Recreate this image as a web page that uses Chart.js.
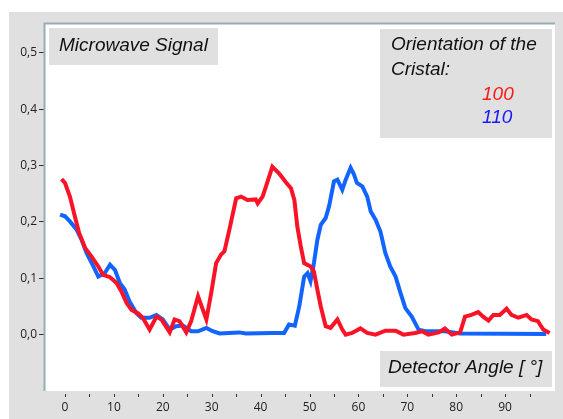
<!DOCTYPE html>
<html lang="en">
<head>
  <meta charset="UTF-8">
  <title>Microwave Signal</title>
  <script src="https://cdn.jsdelivr.net/npm/chart.js"></script>
  <style>
    body { margin: 0; background: #fff; }
    #chart { display: block; }
  </style>
</head>
<body>
  <canvas id="chart" width="563" height="419"></canvas>

  <script>
    // detector angle (deg) and signal
    const redAngle = [-0.7, 0, 1, 2, 2.9, 4.1, 5.4, 6.8, 7.8, 9.2, 10.5, 11.5, 12.6, 13.6, 14.9, 15.9, 17.3, 18.7, 19.7, 21.4,
      22.4, 23.4, 24.8, 25.8, 27.2, 28.9, 29.9, 30.9, 31.9, 32.6, 33.6, 35.0, 36.0, 37.3, 39.0, 39.4, 40.4, 41.1, 42.4, 43.8,
      45.2, 46.2, 46.9, 47.5, 48.2, 48.9, 50.2, 50.9, 51.6, 52.3, 53.3, 54.3, 55.7, 56.7, 57.4, 58.7, 60.4, 61.8, 63.5, 65.5,
      67.6, 69.2, 71.6, 73.0, 74.3, 76.4, 77.7, 79.1, 80.8, 81.8, 83.1, 84.5, 85.5, 86.6, 87.6, 88.9, 90.3, 91.3, 92.7, 94.4,
      95.4, 96.7, 97.8, 99.1];
    const redSignal = [0.276, 0.269, 0.245, 0.21, 0.18, 0.154, 0.139, 0.121, 0.106, 0.102, 0.092, 0.077, 0.056, 0.044, 0.038, 0.03, 0.009, 0.032, 0.027, 0.004,
      0.027, 0.024, 0.004, 0.024, 0.068, 0.027, 0.074, 0.127, 0.142, 0.148, 0.186, 0.242, 0.245, 0.239, 0.24, 0.233, 0.245, 0.263, 0.298, 0.286,
      0.27, 0.26, 0.239, 0.192, 0.157, 0.127, 0.121, 0.112, 0.08, 0.05, 0.015, 0.012, 0.027, 0.009, 0.0, 0.003, 0.011, 0.003, 0.0, 0.007,
      0.007, 0.0, 0.003, 0.006, 0.0, 0.004, 0.011, 0.0, 0.004, 0.032, 0.035, 0.04, 0.032, 0.025, 0.035, 0.035, 0.046, 0.035, 0.03, 0.035,
      0.027, 0.024, 0.009, 0.003];

    const blueAngle = [-1.0, 0, 1.0, 2.4, 3.4, 4.4, 5.8, 6.8, 8.1, 9.2, 10.2, 11.2, 12.2, 13.2, 14.6, 15.6, 17.3, 18.7, 20.0, 21.4,
      22.7, 24.1, 25.8, 27.2, 28.9, 30.2, 31.6, 35.6, 37.0, 42.4, 44.8, 45.8, 47.0, 47.9, 48.9, 49.6, 50.2, 50.9, 51.6, 52.3,
      53.3, 54.0, 55.0, 55.7, 56.7, 57.4, 58.4, 59.1, 59.7, 60.8, 61.8, 62.5, 63.5, 64.5, 65.5, 66.5, 67.6, 68.6, 69.6, 70.9,
      72.3, 73.7, 77.7, 80.8, 98.4];
    const blueSignal = [0.213, 0.21, 0.201, 0.186, 0.168, 0.145, 0.121, 0.103, 0.109, 0.124, 0.115, 0.092, 0.08, 0.059, 0.038, 0.03, 0.03, 0.035, 0.027, 0.009,
      0.015, 0.016, 0.006, 0.006, 0.012, 0.006, 0.002, 0.004, 0.002, 0.003, 0.003, 0.018, 0.016, 0.05, 0.103, 0.109, 0.095, 0.127, 0.168, 0.195,
      0.207, 0.228, 0.272, 0.275, 0.257, 0.275, 0.296, 0.284, 0.269, 0.263, 0.245, 0.219, 0.204, 0.183, 0.145, 0.121, 0.103, 0.074, 0.047, 0.032,
      0.009, 0.006, 0.006, 0.002, 0.001];

    const xTicks = [0, 10, 20, 30, 40, 50, 60, 70, 80, 90];
    const xMinorTicks = [0, 5, 10, 15, 20, 25, 30, 35, 40, 45, 50, 55, 60, 65, 70, 75, 80, 85, 90, 95];
    const yTicks = [0, 0.1, 0.2, 0.3, 0.4, 0.5];

    const RED = 'rgb(250, 18, 38)';
    const BLUE = 'rgb(18, 100, 255)';
    const PANEL = '#e0e0e0';

    const toPoints = (xs, ys) => xs.map((x, i) => ({ x: x, y: ys[i] }));

    // gray frame + white plot area behind the lines
    const frame = {
      id: 'frame',
      beforeDraw(chart) {
        const { ctx, chartArea: a } = chart;
        ctx.save();
        ctx.fillStyle = '#fff';
        ctx.fillRect(0, 0, chart.width, chart.height);
        ctx.fillStyle = PANEL;
        ctx.fillRect(9, 12, chart.width - 9, chart.height - 12);
        ctx.fillStyle = '#fff';
        ctx.fillRect(a.left, a.top, a.right - a.left, a.bottom - a.top);
        ctx.restore();
      },
      afterDraw(chart) {
        const { ctx, chartArea: a } = chart;
        const xs = chart.scales.x;
        ctx.save();
        // left + top border
        ctx.strokeStyle = '#98aeb2';
        ctx.lineWidth = 2;
        ctx.beginPath();
        ctx.moveTo(a.left + 0.5, a.bottom);
        ctx.lineTo(a.left + 0.5, a.top + 0.5);
        ctx.lineTo(a.right, a.top + 0.5);
        ctx.stroke();

        // small x tick marks, detached from the plot
        ctx.strokeStyle = '#333';
        ctx.lineWidth = 1;
        xMinorTicks.forEach(v => {
          const px = Math.round(xs.getPixelForValue(v)) + 0.5;
          ctx.beginPath();
          ctx.moveTo(px, a.bottom + 3);
          ctx.lineTo(px, a.bottom + 6);
          ctx.stroke();
        });

        // annotation boxes
        ctx.fillStyle = PANEL;
        ctx.fillRect(49, 28, 169, 37);
        ctx.fillRect(380, 29, 172, 109);
        ctx.fillRect(380, 351, 172, 36);

        ctx.font = 'italic 19px "Liberation Sans", Arial, sans-serif';
        ctx.textBaseline = 'middle';
        ctx.textAlign = 'left';
        ctx.fillStyle = '#111';
        ctx.fillText('Microwave Signal', 59, 46);
        ctx.fillText('Orientation of the', 391, 45);
        ctx.fillText('Cristal:', 391, 70);
        ctx.fillText('Detector Angle [ °]', 388, 368);
        ctx.fillStyle = '#ff1a1a';
        ctx.fillText('100', 482, 95);
        ctx.fillStyle = '#1a1aff';
        ctx.fillText('110', 482, 118);
        ctx.restore();
      }
    };

    new Chart(document.getElementById('chart'), {
      type: 'line',
      data: {
        datasets: [
          {
            label: '100',
            data: toPoints(redAngle, redSignal),
            borderColor: RED,
            borderWidth: 4,
            pointRadius: 0,
            tension: 0,
            fill: false
          },
          {
            label: '110',
            data: toPoints(blueAngle, blueSignal),
            borderColor: BLUE,
            borderWidth: 4,
            pointRadius: 0,
            tension: 0,
            fill: false
          }
        ]
      },
      options: {
        responsive: false,
        animation: false,
        layout: { padding: { top: 23, right: 8, bottom: 0, left: 0 } },
        plugins: {
          legend: { display: false },
          tooltip: { enabled: false }
        },
        scales: {
          x: {
            type: 'linear',
            min: -4.3,
            max: 100.2,
            afterFit: s => { s.height = 28; },
            afterBuildTicks: s => { s.ticks = xTicks.map(v => ({ value: v })); },
            grid: { display: false, drawTicks: false },
            border: { display: false },
            ticks: {
              padding: 9,
              color: '#222',
              font: { family: '"Open Sans", sans-serif', size: 12 },
              maxRotation: 0
            }
          },
          y: {
            min: -0.1,
            max: 0.553,
            afterFit: s => { s.width = 44; },
            afterBuildTicks: s => { s.ticks = yTicks.map(v => ({ value: v })); },
            grid: { drawOnChartArea: false, drawTicks: true, tickLength: 5, tickColor: '#333' },
            border: { display: false },
            ticks: {
              padding: 2,
              color: '#222',
              font: { family: '"Open Sans", sans-serif', size: 12 },
              callback: v => v.toFixed(1).replace('.', ',')
            }
          }
        }
      },
      plugins: [frame]
    });
  </script>
</body>
</html>
